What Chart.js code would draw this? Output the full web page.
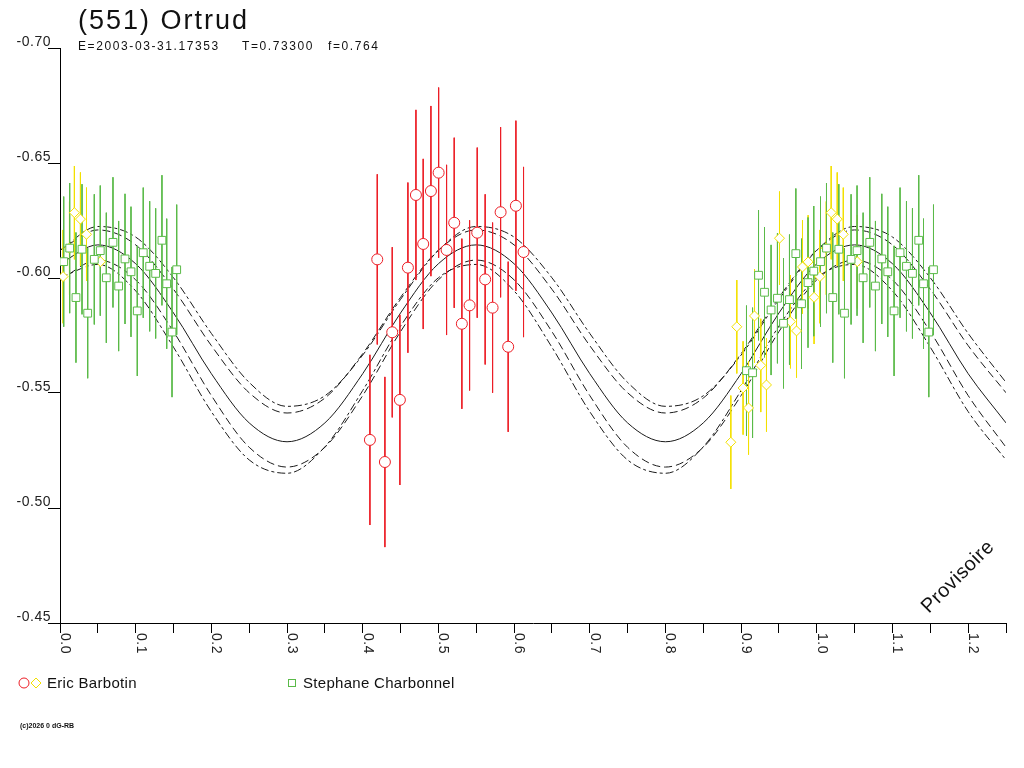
<!DOCTYPE html>
<html>
<head>
<meta charset="utf-8">
<title>(551) Ortrud</title>
<script src="https://cdn.jsdelivr.net/npm/chart.js@4.4.1/dist/chart.umd.min.js"></script>
<style>
html, body { margin: 0; padding: 0; background: #fff; }
#wrap { width: 1024px; height: 768px; }
</style>
</head>
<body>
<div id="wrap"><canvas id="courbe" width="1024" height="768"></canvas></div>
<script>
// courbes de fit (lues tous les 0.05 de phase)
const fitPhase = [0, 0.05, 0.10, 0.15, 0.20, 0.25, 0.30, 0.35, 0.40, 0.45, 0.50, 0.55, 0.60,
                  0.65, 0.70, 0.75, 0.80, 0.85, 0.90, 0.95, 1.00, 1.05, 1.10, 1.15, 1.20, 1.25];
const fitMain = [-0.6062, -0.6144, -0.6062, -0.5848, -0.5584, -0.5370, -0.5288, -0.5370, -0.5584, -0.5848,
                 -0.6062, -0.6144, -0.6062, -0.5848, -0.5584, -0.5370, -0.5288, -0.5370, -0.5584, -0.5848,
                 -0.6062, -0.6144, -0.6062, -0.5848, -0.5584, -0.5370];
const fitHaut = [-0.6121, -0.6209, -0.6144, -0.5951, -0.5706, -0.5501, -0.5413, -0.5478, -0.5671, -0.5916,
                 -0.6121, -0.6209, -0.6144, -0.5951, -0.5706, -0.5501, -0.5413, -0.5478, -0.5671, -0.5916,
                 -0.6121, -0.6209, -0.6144, -0.5951, -0.5706, -0.5501];
const fitHaut2 = [-0.6120, -0.6224, -0.6178, -0.6001, -0.5759, -0.5546, -0.5442, -0.5488, -0.5665, -0.5907,
                  -0.6120, -0.6224, -0.6178, -0.6001, -0.5759, -0.5546, -0.5442, -0.5488, -0.5665, -0.5907,
                  -0.6120, -0.6224, -0.6178, -0.6001, -0.5759, -0.5546];
const fitBas = [-0.5992, -0.6078, -0.5992, -0.5767, -0.5489, -0.5264, -0.5178, -0.5264, -0.5489, -0.5767,
                -0.5992, -0.6078, -0.5992, -0.5767, -0.5489, -0.5264, -0.5178, -0.5264, -0.5489, -0.5767,
                -0.5992, -0.6078, -0.5992, -0.5767, -0.5489, -0.5264];
const fitBas2 = [-0.6001, -0.6059, -0.5944, -0.5699, -0.5419, -0.5209, -0.5151, -0.5266, -0.5511, -0.5791,
                 -0.6001, -0.6059, -0.5944, -0.5699, -0.5419, -0.5209, -0.5151, -0.5266, -0.5511, -0.5791,
                 -0.6001, -0.6059, -0.5944, -0.5699, -0.5419, -0.5209];

// Eric Barbotin, session 1 (cercles rouges)
const redPhase = [0.4095, 0.4192, 0.4293, 0.4390, 0.4491, 0.4597, 0.4703, 0.4799, 0.4901, 0.5003, 0.5108,
                  0.5209, 0.5310, 0.5412, 0.5513, 0.5618, 0.5716, 0.5822, 0.5922, 0.6024, 0.6125];
const redMag = [-0.5296, -0.6081, -0.5200, -0.5764, -0.5470, -0.6045, -0.6361, -0.6148, -0.6378, -0.6458, -0.6122,
                -0.6240, -0.5801, -0.5881, -0.6197, -0.5994, -0.5871, -0.6286, -0.5701, -0.6314, -0.6113];
const redErr = [0.037, 0.037, 0.037, 0.037, 0.037, 0.037, 0.037, 0.037, 0.037, 0.037, 0.037,
                0.037, 0.037, 0.037, 0.037, 0.037, 0.037, 0.037, 0.037, 0.037, 0.037];

// Eric Barbotin, session 2 (losanges jaunes)
const yellowPhase = [0.8864, 0.8943, 0.9026, 0.9098, 0.9177, 0.9260, 0.9335, 0.9507, 0.9652, 0.9732,
                     0.9811, 0.9885, 0.9964, 0.0040, 0.0125, 0.0190, 0.0270, 0.0350, 0.0535];
const yellowMag = [-0.5286, -0.5788, -0.5522, -0.5435, -0.5835, -0.5620, -0.5535, -0.6173, -0.5810, -0.5770,
                   -0.6048, -0.6070, -0.5916, -0.6006, -0.6130, -0.6284, -0.6256, -0.6190, -0.6071];
const yellowErr = [0.0203, 0.0203, 0.0203, 0.0203, 0.0203, 0.0203, 0.0203, 0.0203, 0.0203, 0.0203,
                   0.0203, 0.0203, 0.0203, 0.0203, 0.0203, 0.0203, 0.0203, 0.0203, 0.0203];

// Stephane Charbonnel (carres verts)
const greenPhase = [0.9071, 0.9151, 0.9230, 0.9309, 0.9396, 0.9480, 0.9560, 0.9639, 0.9723, 0.9798, 0.9884, 0.9960,
                    0.0049, 0.0128, 0.0211, 0.0291, 0.0366, 0.0453, 0.0532, 0.0612, 0.0700, 0.0775, 0.0859,
                    0.0938, 0.1021, 0.1100, 0.1185, 0.1264, 0.1347, 0.1410, 0.1480, 0.1542];
const greenMag = [-0.5597, -0.5588, -0.6012, -0.5938, -0.5861, -0.5912, -0.5803, -0.5906, -0.6106, -0.5888, -0.5980, -0.6030,
                  -0.6071, -0.6130, -0.5915, -0.6125, -0.5847, -0.6081, -0.6119, -0.6001, -0.6155, -0.5965, -0.6083,
                  -0.6027, -0.5857, -0.6110, -0.6051, -0.6020, -0.6164, -0.5975, -0.5765, -0.6036];
const greenErr = [0.0283, 0.0283, 0.0283, 0.0283, 0.0283, 0.0283, 0.0283, 0.0283, 0.0283, 0.0283, 0.0283, 0.0283,
                  0.0283, 0.0283, 0.0283, 0.0283, 0.0283, 0.0283, 0.0283, 0.0283, 0.0283, 0.0283, 0.0283,
                  0.0283, 0.0283, 0.0283, 0.0283, 0.0283, 0.0283, 0.0283, 0.0283, 0.0283];

const xTicks = ["0.0", "0.1", "0.2", "0.3", "0.4", "0.5", "0.6", "0.7", "0.8", "0.9", "1.0", "1.1", "1.2"];
const yTicks = ["-0.70", "-0.65", "-0.60", "-0.55", "-0.50", "-0.45"];

const ROUGE = '#ec1e26';
const JAUNE = '#f3e000';
const VERT = '#5aba48';

// les phases < 0.25 sont aussi tracees a phase+1
function points(phase, mag) {
    const pts = [];
    phase.forEach((p, i) => {
        pts.push({ x: p, y: mag[i] });
        if (p < 0.25) pts.push({ x: p + 1, y: mag[i] });
    });
    return pts;
}

function barres(phase, mag, err) {
    const pts = [];
    phase.forEach((p, i) => {
        const xs = p < 0.25 ? [p, p + 1] : [p];
        xs.forEach(x => {
            pts.push({ x: x, y: mag[i] - err[i] });
            pts.push({ x: x, y: mag[i] + err[i] });
            pts.push({ x: x, y: null });
        });
    });
    return pts;
}

function courbe(vals, dash, order) {
    return {
        type: 'line',
        data: fitPhase.map((p, i) => ({ x: p, y: vals[i] })),
        borderColor: '#1a1a1a',
        borderWidth: 1,
        borderDash: dash,
        pointRadius: 0,
        cubicInterpolationMode: 'monotone',
        fill: false,
        order: order
    };
}

function erreur(phase, mag, err, color, order) {
    return {
        type: 'line',
        data: barres(phase, mag, err),
        borderColor: color,
        borderWidth: 1,
        pointRadius: 0,
        spanGaps: false,
        fill: false,
        order: order
    };
}

function marques(phase, mag, color, style, radius, order) {
    return {
        type: 'scatter',
        data: points(phase, mag),
        pointStyle: style,
        pointRadius: radius,
        borderColor: color,
        backgroundColor: '#ffffff',
        borderWidth: 1,
        order: order
    };
}

const textes = {
    id: 'textes',
    afterDraw(chart) {
        const ctx = chart.ctx;
        const sx = chart.scales.x, sy = chart.scales.y;
        ctx.save();
        ctx.fillStyle = '#111';
        ctx.textAlign = 'left';
        ctx.textBaseline = 'alphabetic';

        ctx.font = '27px "Liberation Sans", Arial, sans-serif';
        ctx.letterSpacing = '2px';
        ctx.fillText('(551) Ortrud', 78, 29);

        ctx.font = '12px "Liberation Sans", Arial, sans-serif';
        ctx.letterSpacing = '1.6px';
        ctx.fillText('E=2003-03-31.17353', 78, 50);
        ctx.fillText('T=0.73300', 242, 50);
        ctx.fillText('f=0.764', 328, 50);

        // graduations
        ctx.fillStyle = '#222';
        ctx.font = '14px "Liberation Sans", Arial, sans-serif';
        ctx.letterSpacing = '0.5px';
        ctx.textAlign = 'right';
        yTicks.forEach(t => {
            const py = sy.getPixelForValue(parseFloat(t));
            ctx.fillText(t, 51, py - 2);
        });
        ctx.textAlign = 'left';
        xTicks.forEach(t => {
            const px = sx.getPixelForValue(parseFloat(t));
            ctx.save();
            ctx.translate(px + 1, chart.chartArea.bottom + 10);
            ctx.rotate(Math.PI / 2);
            ctx.fillText(t, 0, 0);
            ctx.restore();
        });

        // legende
        ctx.letterSpacing = '0.3px';
        ctx.font = '15px "Liberation Sans", Arial, sans-serif';
        ctx.fillStyle = '#111';
        ctx.fillText('Eric Barbotin', 47, 688);
        ctx.fillText('Stephane Charbonnel', 303, 688);
        ctx.lineWidth = 1;
        ctx.strokeStyle = ROUGE;
        ctx.beginPath();
        ctx.arc(24, 683, 5, 0, Math.PI * 2);
        ctx.stroke();
        ctx.strokeStyle = JAUNE;
        ctx.beginPath();
        ctx.moveTo(36, 678); ctx.lineTo(41, 683); ctx.lineTo(36, 688); ctx.lineTo(31, 683); ctx.closePath();
        ctx.stroke();
        ctx.strokeStyle = VERT;
        ctx.strokeRect(288.5, 679.5, 7, 7);

        ctx.letterSpacing = '0px';
        ctx.font = 'bold 7px "Liberation Sans", Arial, sans-serif';
        ctx.fillText('(c)2026 0 dG-RB', 20, 728);

        ctx.font = '20px "Liberation Sans", Arial, sans-serif';
        ctx.letterSpacing = '0.5px';
        ctx.translate(958, 577);
        ctx.rotate(-Math.PI / 4);
        ctx.textAlign = 'center';
        ctx.textBaseline = 'middle';
        ctx.fillText('Provisoire', 0, 0);
        ctx.restore();
    }
};

new Chart(document.getElementById('courbe'), {
    type: 'scatter',
    data: {
        datasets: [
            marques(greenPhase, greenMag, VERT, 'rect', 5.5, 1),
            marques(yellowPhase, yellowMag, JAUNE, 'rectRot', 5, 2),
            marques(redPhase, redMag, ROUGE, 'circle', 5.5, 3),
            erreur(greenPhase, greenMag, greenErr, VERT, 4),
            erreur(yellowPhase, yellowMag, yellowErr, JAUNE, 5),
            erreur(redPhase, redMag, redErr, ROUGE, 6),
            courbe(fitMain, [], 7),
            courbe(fitHaut, [8, 4], 8),
            courbe(fitBas, [8, 4], 9),
            courbe(fitHaut2, [8, 3, 3, 3], 10),
            courbe(fitBas2, [8, 3, 3, 3], 11)
        ]
    },
    options: {
        responsive: false,
        animation: false,
        events: [],
        layout: { autoPadding: false, padding: { left: 48, right: 18, top: 48, bottom: 135 } },
        plugins: { legend: { display: false }, tooltip: { enabled: false } },
        scales: {
            x: {
                type: 'linear',
                min: 0,
                max: 1.25,
                ticks: { display: false, stepSize: 0.05 },
                grid: { drawOnChartArea: false, color: '#000', tickLength: 10 },
                border: { color: '#000' },
                afterFit(scale) { scale.height = 10; }
            },
            y: {
                type: 'linear',
                reverse: true,
                min: -0.70,
                max: -0.45,
                ticks: { display: false, stepSize: 0.05 },
                grid: { drawOnChartArea: false, color: '#000', tickLength: 12 },
                border: { color: '#000' },
                afterFit(scale) { scale.width = 12; }
            }
        }
    },
    plugins: [textes]
});
</script>
</body>
</html>
